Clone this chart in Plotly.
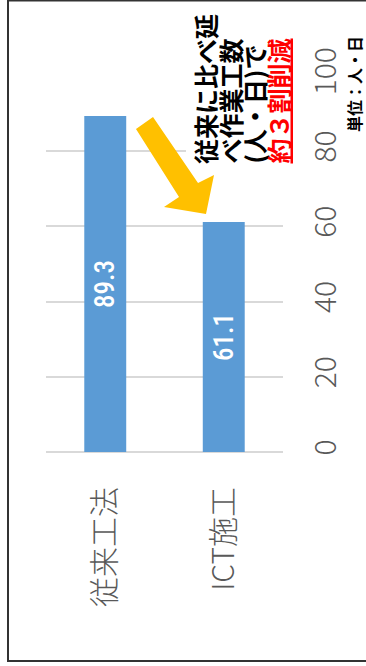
import plotly.graph_objects as go

categories = ["従来工法", "ICT施工"]
values = [89.3, 61.1]
value_labels = ["89.3", "61.1"]
y_ticks = [0, 20, 40, 60, 80, 100]
note_lines = ["従来に比べ延", "べ作業工数", "(人・日)で"]
note_highlight = "約３割削減"
unit_label = "単位：人・日"

W, H = 366, 666
L, R, T, B = 46, 283, 75, 452  # plot area in px

def px(x):
    return (x - L) / (R - L)

def py(y):
    return (B - y) / (B - T)

fig = go.Figure()
fig.add_trace(go.Bar(
    x=categories, y=values, text=value_labels,
    marker=dict(color="#5B9BD5", line=dict(width=0)),
    width=0.354,
    textposition="inside", insidetextanchor="middle", textangle=-90,
    textfont=dict(family="Liberation Sans Narrow, Roboto Condensed, DejaVu Sans Condensed, Roboto", size=27, color="white", weight=500),
    hoverinfo="skip",
))

fig.update_layout(
    width=W, height=H,
    margin=dict(l=L, r=W - R, t=T, b=H - B, pad=0),
    paper_bgcolor="white", plot_bgcolor="white",
    showlegend=False,
    font=dict(family="Noto Sans CJK JP"),
    xaxis=dict(
        tickangle=-90, showgrid=False, showline=False, ticks="",
        tickfont=dict(family="Noto Sans CJK JP", size=30, color="#595959", weight=300),
        ticklabelstandoff=28,
    ),
    yaxis=dict(
        range=[0, 100.2], tickvals=y_ticks, side="right", tickangle=-90,
        showgrid=True, gridcolor="#D9D9D9", gridwidth=2,
        zeroline=True, zerolinecolor="#D9D9D9", zerolinewidth=2,
        showline=False, ticks="",
        tickfont=dict(family="Noto Sans CJK JP", size=30, color="#595959", weight=300),
        ticklabelstandoff=22,
    ),
)

shapes = []
# frame
shapes.append(dict(type="rect", xref="paper", yref="paper",
                   x0=px(8), x1=px(372), y0=py(661), y1=py(0.5),
                   line=dict(color="#333333", width=2), fillcolor="rgba(0,0,0,0)", layer="above"))
# white box behind note
shapes.append(dict(type="rect", xref="paper", yref="paper",
                   x0=px(186), x1=px(295), y0=py(168), y1=py(3),
                   line=dict(width=0), fillcolor="white", layer="above"))
# arrow
pts = [(136, 129), (153, 117), (198, 183), (214, 175), (206, 214), (164, 207), (179, 197)]
path = "M " + " L ".join(f"{px(a):.4f},{py(b):.4f}" for a, b in pts) + " Z"
shapes.append(dict(type="path", xref="paper", yref="paper", path=path,
                   fillcolor="#FFC000", line=dict(width=0), layer="above"))
fig.update_layout(shapes=shapes)

# note text, one column per line
xs = [205, 229, 253]
for xc, line in zip(xs, note_lines):
    fig.add_annotation(text=f"<b>{line}</b>", xref="paper", yref="paper",
                       x=px(xc), y=py(166), xanchor="center", yanchor="bottom",
                       textangle=-90, showarrow=False,
                       font=dict(family="Noto Sans CJK JP", size=25, color="black"))
fig.add_annotation(text=f"<b><u>{note_highlight}</u></b>", xref="paper", yref="paper",
                   x=px(277), y=py(166), xanchor="center", yanchor="bottom",
                   textangle=-90, showarrow=False,
                   font=dict(family="Noto Sans CJK JP", size=25, color="#FF0000"))
fig.add_annotation(text=f"<b>{unit_label}</b>", xref="paper", yref="paper",
                   x=px(354), y=py(134), xanchor="center", yanchor="bottom",
                   textangle=-90, showarrow=False,
                   font=dict(family="Noto Sans CJK JP", size=16, color="black"))

fig.write_html("out.html", config={"displayModeBar": False},
               post_script="document.body.style.margin='0';document.body.style.overflow='hidden';")
